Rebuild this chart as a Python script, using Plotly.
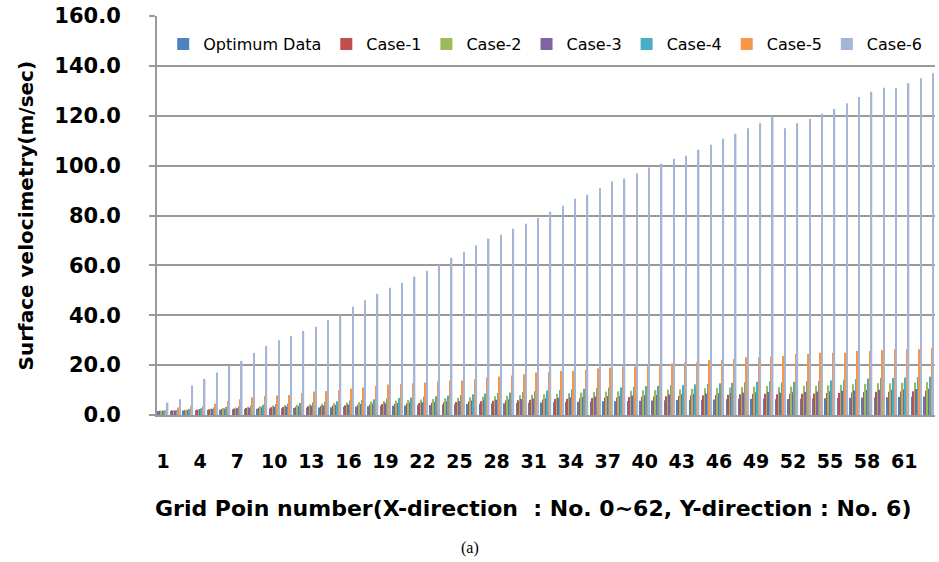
import plotly.graph_objects as go

points = list(range(1, 64))
tick_vals = list(range(1, 62, 3))

optimum = [1.6,1.7,1.8,1.9,2.0,2.1,2.3,2.4,2.5,2.6,2.7,2.8,2.9,3.0,3.1,3.3,3.4,3.5,3.6,3.7,3.8,3.9,4.0,4.2,4.3,4.4,4.5,4.6,4.7,4.8,4.9,5.0,5.1,5.2,5.3,5.4,5.5,5.5,5.6,5.7,5.8,5.9,6.0,6.0,6.1,6.2,6.3,6.4,6.5,6.6,6.3,6.4,6.5,6.6,6.7,6.8,6.9,7.0,7.1,7.1,7.2,7.3,7.4]
case1 = [1.7,1.8,1.9,2.1,2.3,2.4,2.6,2.8,2.9,3.1,3.2,3.3,3.5,3.6,3.8,3.9,4.1,4.2,4.4,4.5,4.6,4.8,4.9,5.1,5.2,5.4,5.5,5.7,5.8,5.9,6.1,6.2,6.4,6.5,6.7,6.8,7.0,7.0,7.2,7.3,7.4,7.5,7.6,7.8,7.9,8.0,8.1,8.3,8.4,8.5,8.3,8.4,8.5,8.6,8.8,8.9,9.0,9.2,9.3,9.3,9.4,9.5,9.7]
case2 = [1.7,1.9,2.1,2.4,2.6,2.8,3.0,3.3,3.5,3.8,4.0,4.1,4.3,4.5,4.7,5.0,5.2,5.4,5.6,5.8,6.0,6.2,6.4,6.7,6.9,7.1,7.3,7.5,7.7,7.9,8.1,8.3,8.5,8.8,9.0,9.2,9.4,9.5,9.7,9.9,10.0,10.2,10.3,10.5,10.7,10.9,11.0,11.2,11.4,11.6,11.2,11.4,11.6,11.7,11.9,12.1,12.3,12.5,12.7,12.7,12.9,13.0,13.2]
case3 = [1.7,1.8,2.0,2.2,2.4,2.5,2.7,2.9,3.1,3.3,3.4,3.5,3.7,3.8,4.0,4.2,4.4,4.5,4.7,4.8,5.0,5.1,5.3,5.5,5.6,5.8,6.0,6.1,6.2,6.4,6.6,6.7,6.9,7.1,7.2,7.4,7.6,7.6,7.8,7.9,8.0,8.2,8.3,8.4,8.6,8.7,8.8,9.0,9.1,9.3,9.0,9.1,9.3,9.4,9.5,9.7,9.8,10.0,10.1,10.1,10.2,10.4,10.5]
case4 = [1.8,2.0,2.4,2.7,3.0,3.2,3.5,3.8,4.1,4.4,4.6,4.8,5.0,5.3,5.5,5.8,6.1,6.3,6.6,6.8,7.0,7.3,7.5,7.8,8.0,8.3,8.6,8.8,9.0,9.2,9.5,9.8,10.0,10.3,10.5,10.8,11.0,11.1,11.3,11.6,11.7,11.9,12.0,12.3,12.5,12.7,12.9,13.1,13.3,13.5,13.0,13.3,13.5,13.7,13.9,14.1,14.4,14.6,14.8,14.8,15.0,15.2,15.4]
case5 = [2.0,3.0,3.7,3.5,4.5,5.6,6.3,7.0,7.6,7.8,8.0,8.7,9.4,9.6,10.0,10.6,11.0,11.6,12.2,12.4,12.7,13.0,13.4,13.8,13.8,14.3,15.0,15.4,15.8,16.3,17.0,17.2,17.7,17.7,18.0,18.7,19.0,19.4,19.4,19.7,20.2,20.7,21.1,21.1,22.0,22.2,22.5,23.2,23.2,23.5,23.7,24.5,24.5,25.0,25.0,25.0,25.7,25.7,26.0,26.4,26.4,26.4,27.0]
case6 = [5.0,6.3,11.8,14.5,17.0,19.7,21.7,24.9,27.7,30.0,31.7,33.7,35.4,38.0,40.0,43.4,46.0,48.6,51.0,53.0,55.5,57.8,60.2,63.0,65.5,68.0,70.7,72.3,74.7,76.7,79.0,81.5,83.9,86.7,88.3,91.0,93.6,94.8,96.8,99.2,100.8,102.8,104.0,106.4,108.4,110.8,112.8,115.0,117.0,119.7,115.0,117.0,118.8,120.8,122.7,125.0,127.5,129.6,131.2,131.2,133.0,135.0,137.0]

series_names = ["Optimum Data", "Case-1", "Case-2", "Case-3", "Case-4", "Case-5", "Case-6"]
series_values = [optimum, case1, case2, case3, case4, case5, case6]
series_colors = ["#4F81BD", "#C0504D", "#9BBB59", "#8064A2", "#4BACC6", "#F79646", "#A3B6D6"]

fig = go.Figure()
for name, vals, col in zip(series_names, series_values, series_colors):
    fig.add_trace(go.Bar(x=points, y=vals, name=name, marker=dict(color=col, line=dict(width=0))))

grid_col = "#9A9A9A"
L, R, T, B = 157, 4, 16, 147
PW = 939 - L - R
PH = 562 - T - B

fig.update_layout(
    width=939, height=562,
    margin=dict(l=L, r=R, t=T, b=B, autoexpand=False),
    paper_bgcolor="white", plot_bgcolor="white",
    barmode="group", bargap=0.16, bargroupgap=0,
    font=dict(family="DejaVu Sans", color="black"),
    legend=dict(orientation="h", x=0.008, y=1 - 28 / PH, xanchor="left", yanchor="middle",
                font=dict(size=16, family="DejaVu Sans"), bgcolor="rgba(0,0,0,0)",
                itemwidth=30, tracegroupgap=0),
    xaxis=dict(range=[0.5, 63.5], tickmode="array", tickvals=tick_vals,
               ticktext=[str(v) for v in tick_vals], showgrid=False, automargin=False,
               showline=True, linecolor=grid_col, linewidth=2, ticks="",
               tickfont=dict(size=19, family="DejaVu Sans", color="black", weight="bold"),
               ticklabelstandoff=28),
    yaxis=dict(range=[0, 160], dtick=20, tickformat=".1f", showgrid=True, automargin=False,
               gridcolor=grid_col, gridwidth=2, showline=True, linecolor=grid_col,
               linewidth=2, ticks="outside", ticklen=6, tickcolor=grid_col, tickwidth=2,
               tickfont=dict(size=21, family="DejaVu Sans", color="black", weight="bold"),
               ticklabelstandoff=24, zeroline=False),
    showlegend=True,
)

fig.add_annotation(text="Surface velocimetry(m/sec)", xref="paper", yref="paper",
                   x=(25 - L) / PW, y=0.5, textangle=-90, showarrow=False,
                   xanchor="center", yanchor="middle",
                   font=dict(size=20, family="DejaVu Sans", color="black", weight="bold"))
fig.add_annotation(text="Grid Poin number(X-direction\u00a0 : No. 0~62, Y-direction : No. 6)",
                   xref="paper", yref="paper", x=(533 - L) / PW, y=(T + PH - 508) / PH, showarrow=False,
                   xanchor="center", yanchor="middle",
                   font=dict(size=22, family="DejaVu Sans", color="black", weight="bold"))
fig.add_annotation(text="(a)", xref="paper", yref="paper", x=(469.5 - L) / PW, y=(T + PH - 548) / PH,
                   showarrow=False, xanchor="center", yanchor="middle",
                   font=dict(size=16, family="Liberation Serif", color="black"))

fig.write_html("out.html", config={"displayModeBar": False},
               post_script="document.body.style.margin='0px';document.body.style.overflow='hidden';")
